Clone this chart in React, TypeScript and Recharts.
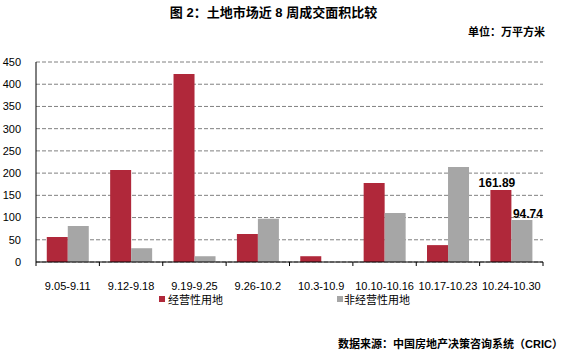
import React from "react";
import { BarChart, Bar, XAxis, YAxis, CartesianGrid } from "recharts";

const categories = ["9.05-9.11", "9.12-9.18", "9.19-9.25", "9.26-10.2", "10.3-10.9", "10.10-10.16", "10.17-10.23", "10.24-10.30"];
const commercial = [56, 207, 423, 63, 13, 178, 38, 161.89];
const nonCommercial = [81, 31, 13, 97.5, 0, 110, 214, 94.74];
const yTicks = [0, 50, 100, 150, 200, 250, 300, 350, 400, 450];
const seriesNames = ["经营性用地", "非经营性用地"];
const labeledIndex = 7;

const RED = "#B0283A";
const GRAY = "#A6A6A6";
const CJK = "'Liberation Sans', 'Noto Sans CJK SC', sans-serif";
const LATIN = "'Liberation Sans', sans-serif";

const data = categories.map((c, i) => ({ name: c, a: commercial[i], b: nonCommercial[i] }));

const PLOT_LEFT = 36;
const PLOT_RIGHT = 543;
const BAND = (PLOT_RIGHT - PLOT_LEFT) / categories.length;

const XTick = (props: any) => {
  const { x, y, payload, index } = props;
  const left = x - BAND / 2;
  return (
    <g>
      <line x1={left} x2={left} y1={y} y2={y + 4} stroke="#000" strokeWidth={1} />
      {index === categories.length - 1 && (
        <line x1={left + BAND} x2={left + BAND} y1={y} y2={y + 4} stroke="#000" strokeWidth={1} />
      )}
      <text x={x} y={y + 28} textAnchor="middle" fontSize={11} fill="#000" fontFamily={LATIN}>
        {payload.value}
      </text>
    </g>
  );
};

const makeLabel = (series: number[], dyOffset: number, dxOffset: number) => (props: any) => {
  const { x, y, width, value } = props;
  if (Number(value) !== series[labeledIndex]) return null;
  return (
    <text x={Number(x) + Number(width) / 2 + dxOffset} y={Number(y) - dyOffset} textAnchor="middle" fontSize={12} fontWeight="bold" fill="#000" fontFamily={LATIN}>
      {Number(value).toFixed(2)}
    </text>
  );
};

export default function App() {
  return (
    <div style={{ position: "absolute", left: 0, top: 0, width: 568, height: 351, background: "#fff", fontFamily: CJK }}>
      <div style={{ position: "absolute", left: 0, top: 4, width: 547, textAlign: "center", fontSize: 13, fontWeight: "bold", lineHeight: "18px", whiteSpace: "nowrap" }}>
        图 2：土地市场近 8 周成交面积比较
      </div>
      <div style={{ position: "absolute", right: 23, top: 24, fontSize: 11, fontWeight: "bold", lineHeight: "16px", whiteSpace: "nowrap" }}>
        单位：万平方米
      </div>
      <BarChart
        width={568}
        height={351}
        data={data}
        margin={{ top: 62, right: 25, bottom: 59, left: 0 }}
        barCategoryGap="17%"
        barGap={0}
      >
        <CartesianGrid vertical={false} horizontal stroke="#808080" strokeDasharray="4 2" />
        <XAxis
          dataKey="name"
          interval={0}
          tickLine={false}
          tickSize={0}
          tickMargin={0}
          height={30}
          axisLine={{ stroke: "#000", strokeWidth: 1 }}
          tick={<XTick />}
        />
        <XAxis xAxisId="top" dataKey="name" orientation="top" height={0} tick={false} tickLine={false} axisLine={{ stroke: "#000", strokeWidth: 1 }} />
        <YAxis
          domain={[0, 450]}
          ticks={yTicks}
          width={36}
          tickLine={false}
          tickSize={0}
          tickMargin={15}
          interval={0}
          axisLine={{ stroke: "#000", strokeWidth: 1 }}
          tick={{ fontSize: 11, fill: "#000", fontFamily: LATIN }}
        />
        <YAxis yAxisId="right" orientation="right" width={0} domain={[0, 450]} tick={false} tickLine={false} axisLine={{ stroke: "#000", strokeWidth: 1 }} />
        <Bar dataKey="a" name={seriesNames[0]} fill={RED} isAnimationActive={false} label={makeLabel(commercial, 3, -4)} />
        <Bar dataKey="b" name={seriesNames[1]} fill={GRAY} isAnimationActive={false} label={makeLabel(nonCommercial, 2, 6)} />
      </BarChart>
      <div style={{ position: "absolute", left: 159, top: 292, display: "flex", alignItems: "center", fontSize: 11, lineHeight: "16px", whiteSpace: "nowrap" }}>
        <span style={{ width: 6, height: 6, background: RED, display: "inline-block", marginRight: 3, marginTop: -3 }} />
        <span>{seriesNames[0]}</span>
      </div>
      <div style={{ position: "absolute", left: 337, top: 292, display: "flex", alignItems: "center", fontSize: 11, lineHeight: "16px", whiteSpace: "nowrap" }}>
        <span style={{ width: 6, height: 6, background: GRAY, display: "inline-block", marginRight: 1, marginTop: -3 }} />
        <span>{seriesNames[1]}</span>
      </div>
      <div style={{ position: "absolute", right: 5, top: 336, fontSize: 11, fontWeight: "bold", lineHeight: "16px", whiteSpace: "nowrap" }}>
        数据来源：中国房地产决策咨询系统（CRIC）
      </div>
    </div>
  );
}
